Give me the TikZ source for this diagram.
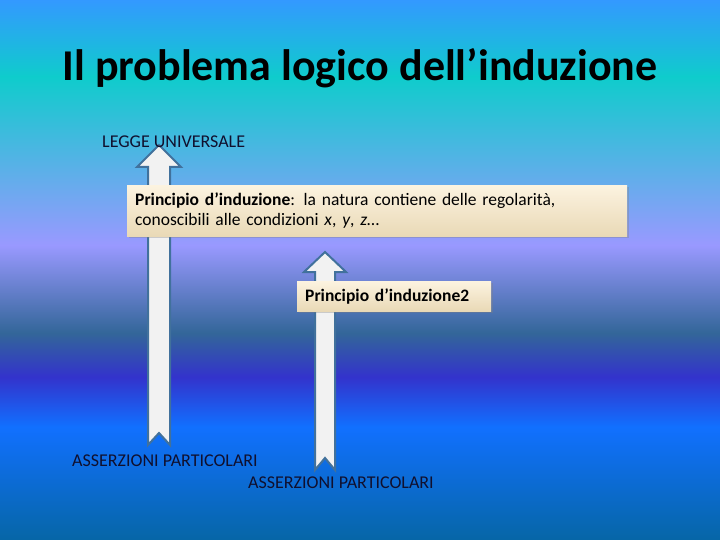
\documentclass[tikz,border=0pt]{standalone}
\usepackage{fontspec}
\setmainfont{Carlito}
\usetikzlibrary{shadows}
\definecolor{bgtop}{HTML}{3399FF}
\definecolor{bgcyan}{HTML}{0FCCCC}
\definecolor{bglav}{HTML}{9999FF}
\definecolor{bgteal}{HTML}{336699}
\definecolor{bgindigo}{HTML}{3333CC}
\definecolor{bgblue}{HTML}{1170FF}
\definecolor{bgbottom}{HTML}{0666A6}
\definecolor{arrowfill}{HTML}{F2F2F2}
\definecolor{arrowline}{HTML}{41719C}
\definecolor{notetop}{HTML}{FCF3E0}
\definecolor{notebottom}{HTML}{E9D9B6}
\definecolor{labelink}{HTML}{10102E}
\tikzset{
    blockarrow/.style={fill=arrowfill, draw=arrowline, line width=2pt, line join=miter},
    notebox/.style={
            top color=notetop, bottom color=notebottom, inner sep=0pt,
            drop shadow={opacity=0.35, shadow xshift=1.5pt, shadow yshift=-1.5pt},
            font=\fontsize{17.5}{20}\selectfont, align=left
        },
    labeltext/.style={font=\fontsize{18}{20}\selectfont, text=labelink, inner sep=0pt},
}

\begin{document}
\begin{tikzpicture}[x=1pt, y=-1pt]
        \useasboundingbox (0, 0) rectangle (720, 540);
        %draw background
        \fill[top color=bgtop, bottom color=bgcyan] (0, 0) rectangle (720, 77);
        \fill[top color=bgcyan, bottom color=bglav] (0, 77) rectangle (720, 245);
        \fill[top color=bglav, bottom color=bgteal] (0, 245) rectangle (720, 333);
        \fill[top color=bgteal, bottom color=bgindigo] (0, 333) rectangle (720, 377);
        \fill[top color=bgindigo, bottom color=bgblue] (0, 377) rectangle (720, 427);
        \fill[top color=bgblue, bottom color=bgbottom] (0, 427) rectangle (720, 540.5);
        %title
        \node[anchor=base, font=\fontsize{44}{48}\selectfont\bfseries] (title) at (360, 81) {Il problema logico dell’induzione};
        %draw left and right arrow
        \draw[blockarrow] (159, 145) -- (181, 167) -- (170, 167) -- (170, 445) -- (159, 433)
            -- (148, 445) -- (148, 167) -- (137, 167) -- cycle;
        \draw[blockarrow] (325, 252) -- (346, 272) -- (335, 272) -- (335, 470) -- (325, 458)
            -- (315, 470) -- (315, 272) -- (304, 272) -- cycle;
        %draw the two boxes
        \node[notebox, anchor=north west, minimum width=500pt, minimum height=51pt,
            text width=484pt] (princ) at (127, 185)
            {\textbf{Principio d’induzione}: la natura contiene delle regolarità,\\
            conoscibili alle condizioni \textit{x}, \textit{y}, \textit{z}…};
        \node[notebox, anchor=north west, minimum width=194pt, minimum height=30pt,
            text width=178pt] (princb) at (297, 281)
            {\textbf{Principio d’induzione2}};
        %label top and bottom of the arrows
        \node[labeltext, anchor=base west] (legge) at (102, 148) {LEGGE UNIVERSALE};
        \node[labeltext, anchor=base west] (asserza) at (72, 466) {ASSERZIONI PARTICOLARI};
        \node[labeltext, anchor=base west] (asserzb) at (248, 488) {ASSERZIONI PARTICOLARI};
    \end{tikzpicture}
\end{document}
